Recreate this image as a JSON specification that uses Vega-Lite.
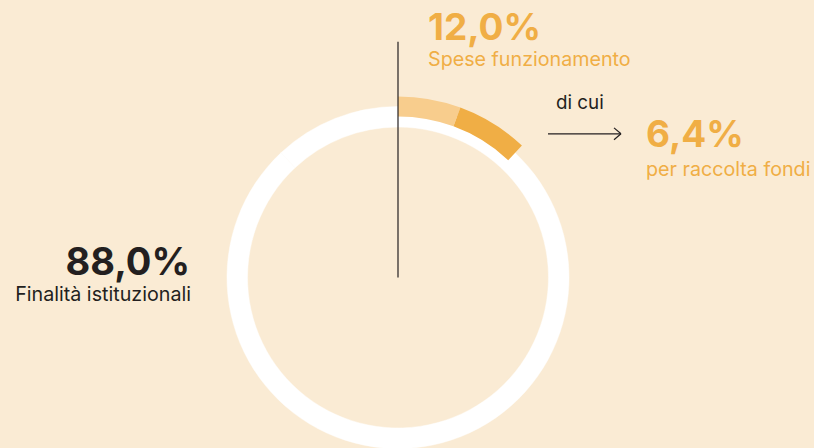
{
  "$schema": "https://vega.github.io/schema/vega-lite/v6.json",
  "width": 814,
  "height": 448,
  "autosize": {"type": "fit", "contains": "padding"},
  "padding": 0,
  "background": "#FAEBD4",
  "config": {"view": {"stroke": null}, "font": "Inter"},
  "datasets": {
    "shares": [
      {"segment": "Finalità istituzionali", "share": 88.0},
      {"segment": "Spese funzionamento", "share": 12.0}
    ],
    "split": [
      {"segment": "Spese funzionamento (altre)", "start": 0, "end": 5.6},
      {"segment": "per raccolta fondi", "start": 5.6, "end": 12.0}
    ],
    "labels": [
      {"text": "12,0%", "px": 428, "py": 40, "role": "num-orange-left"},
      {"text": "Spese funzionamento", "px": 428, "py": 67, "role": "sub-orange-left"},
      {"text": "di cui", "px": 556, "py": 110, "role": "sub-dark-left"},
      {"text": "6,4%", "px": 646, "py": 148, "role": "num-orange-left"},
      {"text": "per raccolta fondi", "px": 646, "py": 178, "role": "sub-orange-left"},
      {"text": "88,0%", "px": 190, "py": 277, "role": "num-dark-right"},
      {"text": "Finalità istituzionali", "px": 191, "py": 304, "role": "sub-dark-right"}
    ],
    "lines": [
      {"x": 398, "y": 42, "x2": 398, "y2": 280},
      {"x": 548, "y": 135, "x2": 621, "y2": 135},
      {"x": 614, "y": 129, "x2": 621, "y2": 135},
      {"x": 614, "y": 141, "x2": 621, "y2": 135}
    ]
  },
  "layer": [
    {
      "data": {"name": "shares"},
      "mark": {"type": "arc", "radius": 171, "radius2": 150.5, "color": "#FFFFFF", "stroke": "#FFFFFF", "strokeWidth": 0.5},
      "encoding": {
        "x": {"datum": 398, "type": "quantitative", "scale": {"domain": [0, 814], "nice": false, "zero": false}, "axis": null},
        "y": {"datum": 280, "type": "quantitative", "scale": {"domain": [0, 448], "nice": false, "zero": false, "reverse": true}, "axis": null},
        "theta": {"field": "share", "type": "quantitative", "stack": true, "scale": {"domain": [0, 100]}}
      }
    },
    {
      "data": {"name": "split"},
      "mark": {"type": "arc", "radius": 181, "radius2": 161},
      "encoding": {
        "x": {"datum": 398, "type": "quantitative", "scale": {"domain": [0, 814], "nice": false, "zero": false}, "axis": null},
        "y": {"datum": 280, "type": "quantitative", "scale": {"domain": [0, 448], "nice": false, "zero": false, "reverse": true}, "axis": null},
        "theta": {"field": "start", "type": "quantitative", "stack": null, "scale": {"domain": [0, 100]}},
        "theta2": {"field": "end"},
        "color": {"field": "segment", "type": "nominal", "scale": {"domain": ["Spese funzionamento (altre)", "per raccolta fondi"], "range": ["#F8CD8D", "#F0AE45"]}, "legend": null}
      }
    },
    {
      "data": {"name": "lines"},
      "mark": {"type": "rule", "color": "#231F20", "strokeWidth": 1.2},
      "encoding": {
        "x": {"field": "x", "type": "quantitative", "scale": {"domain": [0, 814], "nice": false, "zero": false}, "axis": null},
        "x2": {"field": "x2"},
        "y": {"field": "y", "type": "quantitative", "scale": {"domain": [0, 448], "nice": false, "zero": false, "reverse": true}, "axis": null},
        "y2": {"field": "y2"}
      }
    },
    {
      "data": {"name": "labels"},
      "transform": [{"filter": "datum.role === 'num-orange-left'"}],
      "mark": {"type": "text", "align": "left", "baseline": "alphabetic", "font": "Inter", "fontSize": 37, "fontWeight": 700, "color": "#F0AE45"},
      "encoding": {
        "x": {"field": "px", "type": "quantitative", "axis": null},
        "y": {"field": "py", "type": "quantitative", "axis": null},
        "text": {"field": "text"}
      }
    },
    {
      "data": {"name": "labels"},
      "transform": [{"filter": "datum.role === 'sub-orange-left'"}],
      "mark": {"type": "text", "align": "left", "baseline": "alphabetic", "font": "Inter", "fontSize": 19.7, "fontWeight": 400, "color": "#F0AE45"},
      "encoding": {
        "x": {"field": "px", "type": "quantitative", "axis": null},
        "y": {"field": "py", "type": "quantitative", "axis": null},
        "text": {"field": "text"}
      }
    },
    {
      "data": {"name": "labels"},
      "transform": [{"filter": "datum.role === 'sub-dark-left'"}],
      "mark": {"type": "text", "align": "left", "baseline": "alphabetic", "font": "Inter", "fontSize": 18.8, "fontWeight": 400, "color": "#231F20"},
      "encoding": {
        "x": {"field": "px", "type": "quantitative", "axis": null},
        "y": {"field": "py", "type": "quantitative", "axis": null},
        "text": {"field": "text"}
      }
    },
    {
      "data": {"name": "labels"},
      "transform": [{"filter": "datum.role === 'num-dark-right'"}],
      "mark": {"type": "text", "align": "right", "baseline": "alphabetic", "font": "Inter", "fontSize": 38, "fontWeight": 700, "color": "#231F20"},
      "encoding": {
        "x": {"field": "px", "type": "quantitative", "axis": null},
        "y": {"field": "py", "type": "quantitative", "axis": null},
        "text": {"field": "text"}
      }
    },
    {
      "data": {"name": "labels"},
      "transform": [{"filter": "datum.role === 'sub-dark-right'"}],
      "mark": {"type": "text", "align": "right", "baseline": "alphabetic", "font": "Inter", "fontSize": 19.7, "fontWeight": 400, "color": "#231F20"},
      "encoding": {
        "x": {"field": "px", "type": "quantitative", "axis": null},
        "y": {"field": "py", "type": "quantitative", "axis": null},
        "text": {"field": "text"}
      }
    }
  ]
}
